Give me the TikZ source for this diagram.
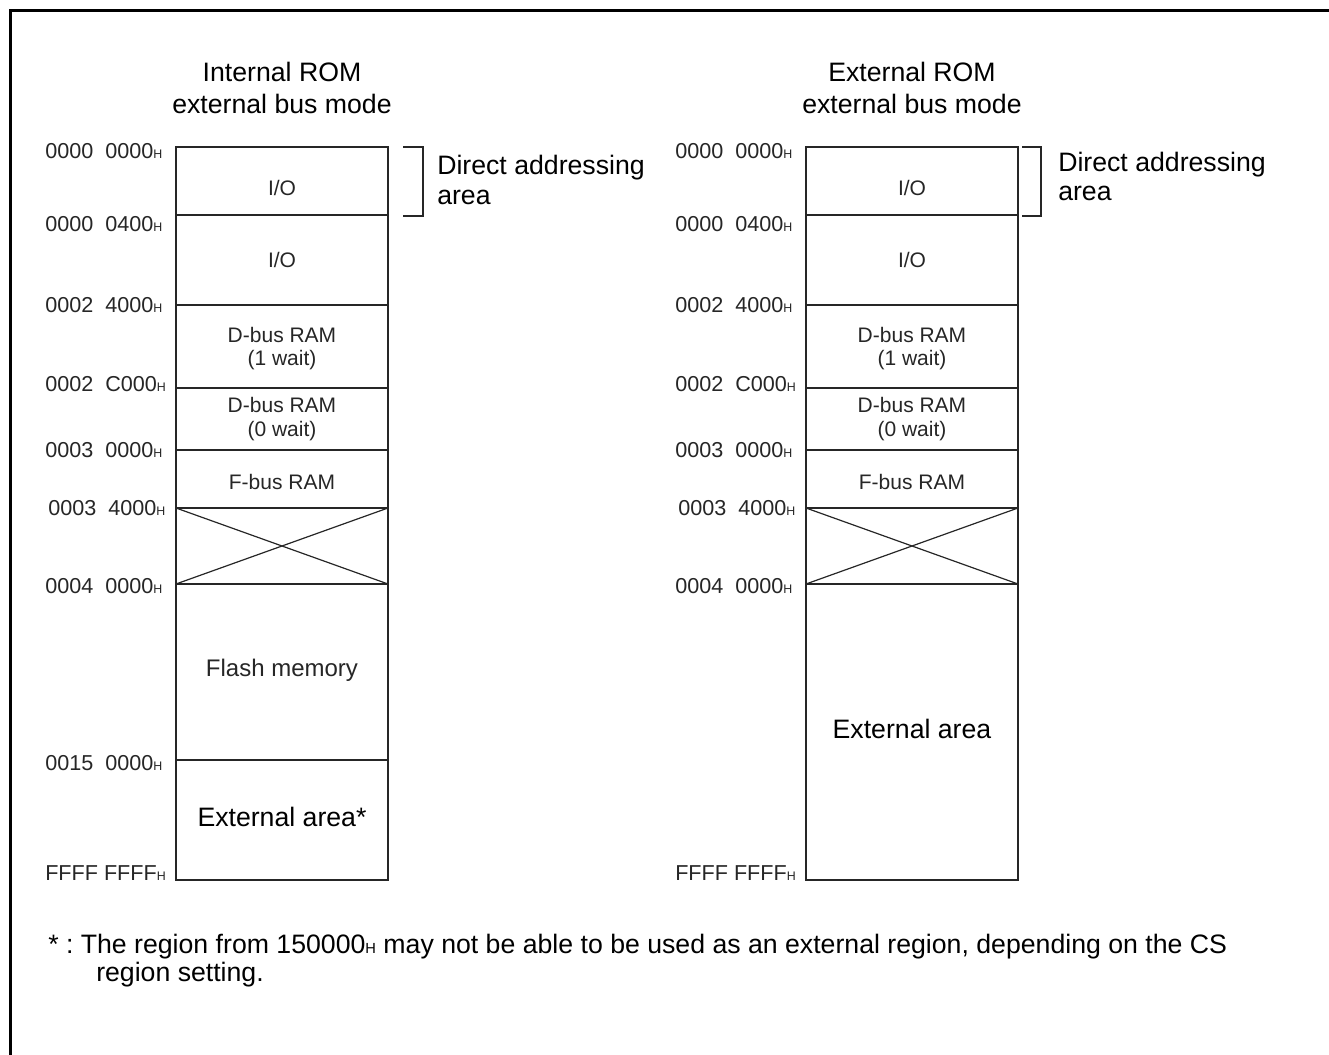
\documentclass[tikz,border=0pt]{standalone}
\usepackage{fontspec}
\setmainfont{Liberation Sans}
\frenchspacing
\definecolor{ink}{HTML}{262626}
\newcommand\Hs{{\fontsize{9.3pt}{9.3pt}\selectfont H}}
\newcommand\Hb{{\fontsize{11pt}{11pt}\selectfont H}}
\begin{document}
\begin{tikzpicture}[x=0.75pt,y=-0.75pt,
  addr/.style={anchor=west, inner sep=0pt, font=\fontsize{16.2pt}{18pt}\selectfont, text=ink},
  cell/.style={inner sep=0pt, font=\fontsize{15.75pt}{18pt}\selectfont, text=ink},
  flash/.style={inner sep=0pt, font=\fontsize{18pt}{21pt}\selectfont, text=ink},
  big/.style={inner sep=0pt, font=\fontsize{20pt}{23pt}\selectfont},
  mapbox/.style={draw=ink, line width=2pt},
  divider/.style={draw=ink, line width=0.9pt},
  bracket/.style={draw=ink, line width=0.9pt},
]
\useasboundingbox (0,0) rectangle (1329,1055);
% outer frame (cropped)
\draw[line width=2pt] (10.5,1055) -- (10.5,10.5) -- (1329,10.5);

% ---------- left map ----------
\foreach \yy in {215,305,388,450,508,584,760}
  \draw[divider] (176,\yy) -- (388,\yy);
\draw[divider] (176,508) -- (388,584);
\draw[divider] (176,584) -- (388,508);
\draw[mapbox] (176,147) rectangle (388,880);

\node[big, anchor=base] (lh1) at (282,82) {Internal ROM};
\node[big, anchor=base] (lh2) at (282,114) {external bus mode};

\node[addr] (la0) at (45,151) {0000~~0000\Hs};
\node[addr] (la1) at (45,224) {0000~~0400\Hs};
\node[addr] (la2) at (45,305.5) {0002~~4000\Hs};
\node[addr] (la3) at (45,384) {0002~~C000\Hs};
\node[addr] (la4) at (45,450.5) {0003~~0000\Hs};
\node[addr] (la5) at (48,508) {0003~~4000\Hs};
\node[addr] (la6) at (45,586) {0004~~0000\Hs};
\node[addr] (la7) at (45,763) {0015~~0000\Hs};
\node[addr] (la8) at (45,873) {FFFF FFFF\Hs};

\node[cell] (lc1) at (282,188) {I/O};
\node[cell] (lc2) at (282,260) {I/O};
\node[cell] (lc3a) at (282,335) {D-bus RAM};
\node[cell] (lc3b) at (282,360) {(1 wait)};
\node[cell] (lc4a) at (282,405) {D-bus RAM};
\node[cell] (lc4b) at (282,431) {(0 wait)};
\node[cell] (lc5) at (282,482) {F-bus RAM};
\node[flash] (lc6) at (282,670) {Flash memory};
\node[big] (lc7) at (282,817) {External area*};

\draw[bracket] (403,147) -- (423,147) -- (423,216) -- (403,216);
\node[big, anchor=base west] (ld1) at (437,175) {Direct addressing};
\node[big, anchor=base west] (ld2) at (437,205) {area};

% ---------- right map ----------
\foreach \yy in {215,305,388,450,508,584}
  \draw[divider] (806,\yy) -- (1018,\yy);
\draw[divider] (806,508) -- (1018,584);
\draw[divider] (806,584) -- (1018,508);
\draw[mapbox] (806,147) rectangle (1018,880);

\node[big, anchor=base] (rh1) at (912,82) {External ROM};
\node[big, anchor=base] (rh2) at (912,114) {external bus mode};

\node[addr] (ra0) at (675,151) {0000~~0000\Hs};
\node[addr] (ra1) at (675,224) {0000~~0400\Hs};
\node[addr] (ra2) at (675,305.5) {0002~~4000\Hs};
\node[addr] (ra3) at (675,384) {0002~~C000\Hs};
\node[addr] (ra4) at (675,450.5) {0003~~0000\Hs};
\node[addr] (ra5) at (678,508) {0003~~4000\Hs};
\node[addr] (ra6) at (675,586) {0004~~0000\Hs};
\node[addr] (ra8) at (675,873) {FFFF FFFF\Hs};

\node[cell] (rc1) at (912,188) {I/O};
\node[cell] (rc2) at (912,260) {I/O};
\node[cell] (rc3a) at (912,335) {D-bus RAM};
\node[cell] (rc3b) at (912,360) {(1 wait)};
\node[cell] (rc4a) at (912,405) {D-bus RAM};
\node[cell] (rc4b) at (912,431) {(0 wait)};
\node[cell] (rc5) at (912,482) {F-bus RAM};
\node[big] (rc6) at (912,729) {External area};

\draw[bracket] (1022,147) -- (1041,147) -- (1041,216) -- (1022,216);
\node[big, anchor=base west] (rd1) at (1058,172) {Direct addressing};
\node[big, anchor=base west] (rd2) at (1058,201) {area};

% ---------- footnote ----------
\node[big, anchor=base west] (fn1) at (48,953) {* : The region from 150000\Hb{} may not be able to be used as an external region, depending on the CS};
\node[big, anchor=base west] (fn2) at (96,981) {region setting.};
\end{tikzpicture}
\end{document}
